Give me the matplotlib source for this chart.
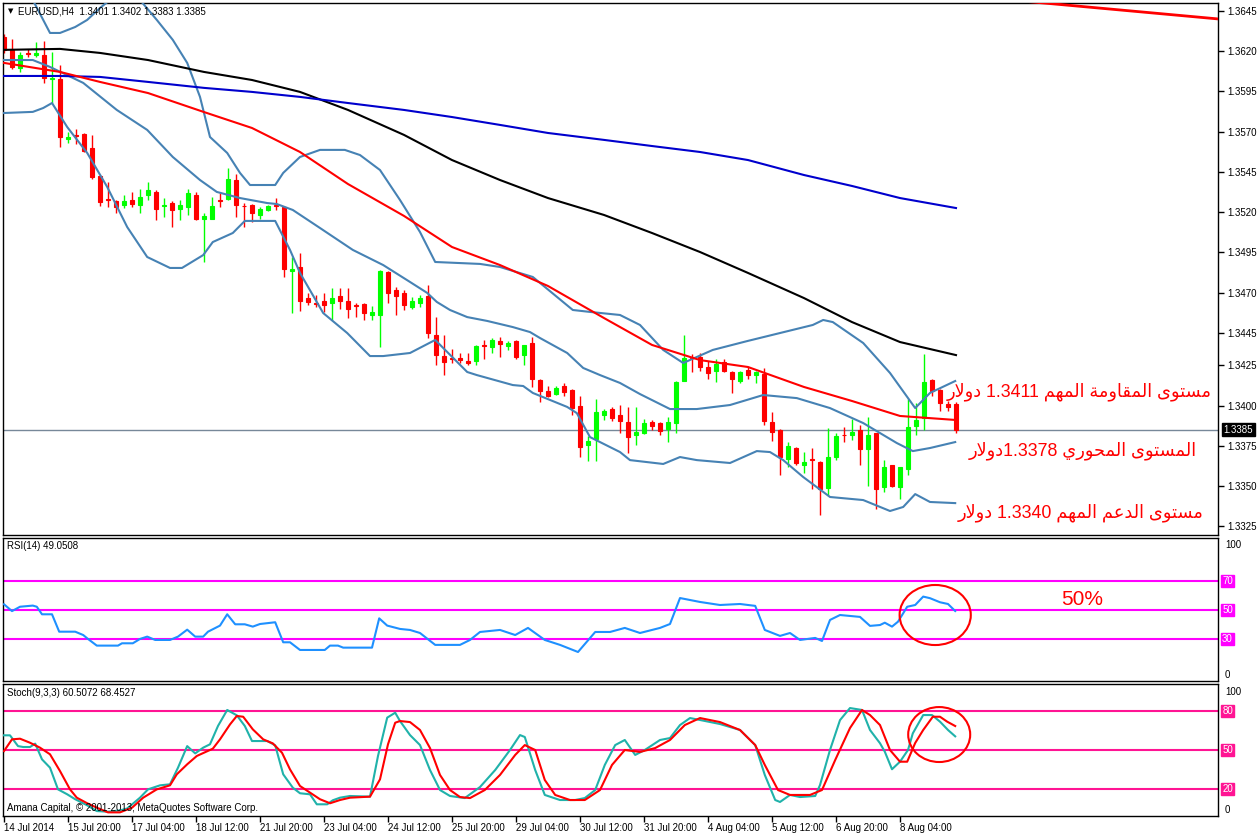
import re
import unicodedata
import matplotlib
matplotlib.use('Agg')
import matplotlib.pyplot as plt
from matplotlib.patches import Ellipse
import numpy as np

# ---------------- data ----------------
candle_open = [1.36290, 1.36208, 1.36096, 1.36189, 1.36176, 1.36176, 1.36029, 1.36027, 1.35655, 1.35680,
               1.35686, 1.35599, 1.35425, 1.35282, 1.35270, 1.35245, 1.35276, 1.35245, 1.35307, 1.35326,
               1.35239, 1.35257, 1.35220, 1.35233, 1.35307, 1.35158, 1.35158, 1.35276, 1.35282, 1.35400,
               1.35239, 1.35245, 1.35183, 1.35214, 1.35242, 1.35233, 1.34835, 1.34860, 1.34667, 1.34636,
               1.34651, 1.34635, 1.34680, 1.34651, 1.34621, 1.34630, 1.34564, 1.34564, 1.34829, 1.34717,
               1.34697, 1.34613, 1.34635, 1.34680, 1.34436, 1.34307, 1.34292, 1.34295, 1.34274, 1.34274,
               1.34376, 1.34365, 1.34399, 1.34369, 1.34399, 1.34315, 1.34386, 1.34158, 1.34088, 1.34071,
               1.34121, 1.34096, 1.33997, 1.33756, 1.33790, 1.33943, 1.33976, 1.33939, 1.33897, 1.33815,
               1.33827, 1.33897, 1.33889, 1.33856, 1.33889, 1.34154, 1.34301, 1.34299, 1.34241, 1.34216,
               1.34270, 1.34208, 1.34154, 1.34220, 1.34187, 1.34196, 1.33897, 1.33848, 1.33666, 1.33736,
               1.33632, 1.33665, 1.33649, 1.33488, 1.33682, 1.33817, 1.33815, 1.33848, 1.33732, 1.33827,
               1.33496, 1.33629, 1.33496, 1.33604, 1.33873, 1.33922, 1.34158, 1.34096, 1.34009, 1.34010]
candle_high = [1.36307, 1.36276, 1.36195, 1.36214, 1.36257, 1.36263, 1.36195, 1.36114, 1.35698, 1.35717,
               1.35692, 1.35680, 1.35431, 1.35388, 1.35276, 1.35307, 1.35326, 1.35344, 1.35388, 1.35338,
               1.35288, 1.35270, 1.35276, 1.35344, 1.35326, 1.35195, 1.35295, 1.35320, 1.35475, 1.35438,
               1.35257, 1.35251, 1.35233, 1.35245, 1.35288, 1.35239, 1.34922, 1.34947, 1.34699, 1.34686,
               1.34700, 1.34730, 1.34730, 1.34730, 1.34638, 1.34636, 1.34618, 1.34839, 1.34837, 1.34734,
               1.34717, 1.34672, 1.34684, 1.34750, 1.34548, 1.34436, 1.34353, 1.34324, 1.34324, 1.34374,
               1.34407, 1.34419, 1.34423, 1.34402, 1.34405, 1.34377, 1.34423, 1.34162, 1.34121, 1.34121,
               1.34141, 1.34100, 1.34059, 1.33810, 1.34038, 1.33980, 1.33989, 1.34001, 1.33992, 1.33992,
               1.33914, 1.33910, 1.33897, 1.33930, 1.34150, 1.34436, 1.34320, 1.34324, 1.34274, 1.34287,
               1.34287, 1.34212, 1.34212, 1.34241, 1.34212, 1.34233, 1.33960, 1.33852, 1.33773, 1.33740,
               1.33711, 1.33736, 1.33653, 1.33860, 1.33827, 1.33865, 1.33914, 1.33877, 1.33927, 1.33830,
               1.33662, 1.33632, 1.33620, 1.34042, 1.34017, 1.34320, 1.34166, 1.34100, 1.34030, 1.34020]
candle_low = [1.36189, 1.36090, 1.36071, 1.36164, 1.36164, 1.36003, 1.35878, 1.35605, 1.35630, 1.35624,
              1.35574, 1.35406, 1.35239, 1.35233, 1.35195, 1.35226, 1.35233, 1.35195, 1.35276, 1.35152,
              1.35170, 1.35108, 1.35152, 1.35183, 1.35152, 1.34891, 1.35158, 1.35233, 1.35276, 1.35170,
              1.35108, 1.35139, 1.35158, 1.35208, 1.35214, 1.34798, 1.34574, 1.34587, 1.34624, 1.34612,
              1.34581, 1.34531, 1.34601, 1.34543, 1.34551, 1.34531, 1.34531, 1.34365, 1.34635, 1.34564,
              1.34593, 1.34601, 1.34613, 1.34419, 1.34253, 1.34191, 1.34266, 1.34262, 1.34253, 1.34253,
              1.34291, 1.34324, 1.34303, 1.34345, 1.34291, 1.34253, 1.34117, 1.34022, 1.34051, 1.34067,
              1.34059, 1.33939, 1.33682, 1.33657, 1.33657, 1.33910, 1.33902, 1.33831, 1.33707, 1.33756,
              1.33820, 1.33848, 1.33815, 1.33773, 1.33831, 1.34150, 1.34208, 1.34216, 1.34166, 1.34146,
              1.34210, 1.34079, 1.34138, 1.34166, 1.34138, 1.33877, 1.33781, 1.33566, 1.33620, 1.33629,
              1.33583, 1.33479, 1.33318, 1.33446, 1.33662, 1.33773, 1.33786, 1.33632, 1.33500, 1.33355,
              1.33463, 1.33496, 1.33417, 1.33570, 1.33815, 1.33848, 1.34059, 1.33964, 1.33964, 1.33830]
candle_close = [1.36208, 1.36104, 1.36176, 1.36183, 1.36191, 1.36034, 1.36034, 1.35667, 1.35667, 1.35673,
                1.35580, 1.35419, 1.35264, 1.35276, 1.35233, 1.35270, 1.35251, 1.35295, 1.35338, 1.35220,
                1.35245, 1.35214, 1.35245, 1.35320, 1.35158, 1.35177, 1.35239, 1.35270, 1.35406, 1.35245,
                1.35236, 1.35195, 1.35220, 1.35239, 1.35239, 1.34848, 1.34848, 1.34649, 1.34643, 1.34633,
                1.34626, 1.34667, 1.34651, 1.34601, 1.34618, 1.34576, 1.34581, 1.34833, 1.34700, 1.34680,
                1.34626, 1.34647, 1.34667, 1.34448, 1.34315, 1.34270, 1.34289, 1.34282, 1.34262, 1.34369,
                1.34372, 1.34407, 1.34382, 1.34386, 1.34303, 1.34374, 1.34166, 1.34092, 1.34059, 1.34109,
                1.34084, 1.33984, 1.33744, 1.33778, 1.33960, 1.33964, 1.33922, 1.33905, 1.33806, 1.33835,
                1.33889, 1.33873, 1.33843, 1.33897, 1.34146, 1.34295, 1.34295, 1.34241, 1.34204, 1.34258,
                1.34216, 1.34166, 1.34208, 1.34191, 1.34208, 1.33905, 1.33835, 1.33678, 1.33748, 1.33641,
                1.33649, 1.33662, 1.33483, 1.33678, 1.33810, 1.33814, 1.33835, 1.33728, 1.33815, 1.33483,
                1.33620, 1.33500, 1.33620, 1.33865, 1.33910, 1.34146, 1.34088, 1.34014, 1.33992, 1.33850]

ma_bars = [0, 7, 12, 18, 25, 31, 37, 43, 50, 56, 62, 68, 75, 81, 87, 93, 100, 106, 112, 119]
ma_black = [1.36208, 1.36214, 1.36189, 1.36145, 1.36071, 1.36021, 1.35947, 1.35835, 1.35680, 1.35524,
            1.35400, 1.35288, 1.35183, 1.35071, 1.34953, 1.34823, 1.34667, 1.34518, 1.34394, 1.34313]
ma_blue = [1.36046, 1.36046, 1.36040, 1.36009, 1.35972, 1.35947, 1.35916, 1.35878, 1.35835, 1.35791,
           1.35742, 1.35692, 1.35649, 1.35611, 1.35574, 1.35524, 1.35431, 1.35363, 1.35288, 1.35226]
ma_red = [1.36127, 1.36071, 1.36009, 1.35940, 1.35822, 1.35723, 1.35574, 1.35375, 1.35177, 1.34984,
          1.34872, 1.34742, 1.34543, 1.34376, 1.34282, 1.34239, 1.34115, 1.34028, 1.33935, 1.33910]

bb_up_bars = [0, 2, 3.6, 4.9, 5.75, 7, 8.9, 10.4, 12, 13.25, 15, 17, 19.1, 21.1, 22.9, 24.5, 25.75, 27.9,
              29.5, 30.75, 33.9, 34.9, 37, 39.5, 42.6, 44.5, 47, 49.5, 52, 53.9, 59.5, 62, 66.1, 71.1,
              73.25, 77, 79.5, 82.4, 84.9, 88.6, 92.9, 97, 101.1, 102.4, 103.6, 107.4, 110.75, 113.9,
              115.75, 118.9]
bb_up = [1.36568, 1.36543, 1.36518, 1.36394, 1.36313, 1.36313, 1.36350, 1.36394, 1.36468, 1.36518,
         1.36568, 1.36518, 1.36394, 1.36270, 1.36127, 1.35916, 1.35667, 1.35568, 1.35444, 1.35369,
         1.35369, 1.35444, 1.35543, 1.35587, 1.35587, 1.35555, 1.35462, 1.35276, 1.35077, 1.34891,
         1.34879, 1.34860, 1.34798, 1.34593, 1.34581, 1.34562, 1.34500, 1.34345, 1.34264, 1.34345,
         1.34400, 1.34450, 1.34500, 1.34531, 1.34518, 1.34388, 1.34202, 1.33984, 1.34078, 1.34152]
bb_mid_bars = [0, 3.6, 5.75, 9.9, 14.1, 17.9, 21.1, 24.5, 26.6, 29.5, 32.9, 34.1, 36.1, 39.5, 43.6,
               47.4, 50.75, 52.9, 54.1, 55.75, 57.9, 60.4, 63.6, 65.75, 67, 70.4, 72.4, 74.5, 77, 79.5,
               83.25, 86.6, 90.75, 94.9, 99.1, 103.25, 107.4, 111.6, 113.6, 115.75, 118.9]
bb_mid = [1.36145, 1.36145, 1.36102, 1.36003, 1.35835, 1.35711, 1.35543, 1.35400, 1.35326, 1.35288,
          1.35257, 1.35251, 1.35214, 1.35102, 1.34966, 1.34872, 1.34767, 1.34699, 1.34643, 1.34593,
          1.34549, 1.34525, 1.34487, 1.34456, 1.34419, 1.34326, 1.34233, 1.34189, 1.34140, 1.34071,
          1.33978, 1.33978, 1.34003, 1.34065, 1.34046, 1.33984, 1.33891, 1.33767, 1.33717, 1.33736,
          1.33773]
bb_low_bars = [0, 3.6, 4.9, 6, 7.9, 10.4, 12.9, 15.4, 17.9, 20.75, 22.25, 24.9, 26.1, 28.6, 30.1, 33.9,
               35.75, 37, 39.9, 42.9, 45.75, 47.4, 50.75, 53.9, 57.9, 59.1, 63.6, 64.9, 66.1, 70.4, 71.6,
               73.25, 74.5, 77, 78.25, 82.4, 84.5, 86.6, 90.75, 94.1, 95.75, 97.4, 99.9, 103.25, 107.4,
               110.75, 112.4, 113.9, 115.75, 118.9]
bb_low = [1.35816, 1.35823, 1.35847, 1.35878, 1.35729, 1.35568, 1.35357, 1.35108, 1.34922, 1.34854,
          1.34854, 1.34934, 1.35015, 1.35071, 1.35146, 1.35146, 1.34966, 1.34823, 1.34574, 1.34450,
          1.34307, 1.34307, 1.34326, 1.34407, 1.34208, 1.34189, 1.34127, 1.34121, 1.34078, 1.33991,
          1.33953, 1.33804, 1.33773, 1.33711, 1.33661, 1.33637, 1.33680, 1.33661, 1.33643, 1.33717,
          1.33711, 1.33661, 1.33556, 1.33432, 1.33413, 1.33345, 1.33370, 1.33450, 1.33401, 1.33394]

trend_bars = [128, 152]
trend_vals = [1.36508, 1.36399]
last_price = 1.3385

rsi_bars = [0, 1, 2, 3.6, 4.1, 4.75, 6, 6.9, 8.9, 9.9, 10.5, 11.6, 14.25, 14.75, 16.1, 17, 17.9, 18.9,
            20.75, 21.75, 22.9, 23.9, 24.9, 25.5, 27, 27.9, 28.9, 30.1, 31.1, 32, 33.9, 34.9, 35.75, 37,
            40.1, 40.75, 41.75, 42.4, 46, 46.9, 47.9, 49.5, 50.75, 52, 53.9, 57, 58.25, 59.5, 62, 63.9,
            65.5, 67.6, 69.5, 71.75, 73.9, 75.75, 77.6, 79.5, 82, 83.25, 84.5, 87, 89.5, 92, 93.9, 95.1,
            97, 98.25, 99.5, 101.4, 102.25, 103.25, 104.5, 107, 108.25, 109.5, 110.1, 111, 111.75, 112.9,
            113.9, 114.9, 115.75, 117, 118, 118.9]
rsi_vals = [53.7, 49, 52, 52.8, 52, 46.8, 46.8, 34.8, 34.8, 32.5, 29.8, 25.2, 25.2, 26.8, 26.8, 29.8,
            31.4, 29.1, 29.1, 31.4, 36.2, 31.4, 31.4, 34.8, 39, 46.8, 39.9, 39.9, 38.3, 40.1, 41.3, 27.5,
            27.5, 22.2, 22.2, 25.2, 25.2, 23.8, 23.8, 44, 39, 36.7, 36, 33.9, 25.7, 25.7, 29.1, 34.6, 36,
            32.5, 37.4, 29.1, 25.7, 20.8, 34.6, 34.6, 37.4, 33.9, 37.4, 40.1, 58, 55.3, 53.2, 53.9, 52.6,
            36, 31.9, 33.9, 29.1, 30.5, 28.4, 42.9, 46.3, 45, 38.8, 39.4, 41, 38.3, 41.7, 52, 53.2, 59,
            57.9, 55.1, 53.9, 49.05]

stoch_k_bars = [0, 0.75, 1.75, 2.4, 3.25, 3.9, 4.75, 5.75, 6.75, 7.9, 8.9, 10.4, 11.6, 13, 14.5, 15.4,
                17, 18, 19.5, 20.75, 21.75, 22.9, 23.9, 24.9, 25.75, 26.75, 27.9, 29.1, 30.1, 31, 32.9,
                33.9, 34.9, 36.1, 37, 38.25, 39.1, 40.4, 41.1, 42, 43.25, 45.75, 46.75, 47.9, 48.9, 49.5,
                50.75, 52, 53.25, 54.5, 55.75, 57.6, 59.5, 61.4, 63.25, 64.5, 65.1, 66.4, 67.6, 69.5,
                71.4, 72.6, 73.9, 75.1, 76.4, 77.6, 78.9, 80.1, 82, 83.25, 84.5, 85.75, 87, 89.5, 92,
                93.9, 95.1, 96.4, 97, 98.25, 99.5, 101.4, 102, 103.25, 104.5, 105.75, 107.25, 108.25,
                109.5, 110.1, 111, 112, 113, 113.6, 114.9, 116, 117, 118, 118.9]
stoch_k = [61.3, 61.3, 53, 52.3, 52.3, 54.9, 42.8, 36.4, 19.7, 15.9, 12.1, 7.4, 3, 2.5, 3.5, 5, 13.3,
           19.7, 22.8, 23.6, 36.4, 53, 47.4, 51.8, 54.4, 68.5, 80.8, 76.7, 68.5, 56.9, 56.9, 53.6, 31.3,
           21, 16.7, 15.9, 8.2, 8.2, 11.3, 13.3, 14.6, 14.1, 45.4, 74.9, 78.7, 72.3, 61.5, 53.8, 34.6,
           19.2, 14.6, 13, 21.5, 34.6, 50, 61.5, 60, 34.6, 15.4, 11.5, 11.5, 13, 19.2, 38.5, 53.8, 57.7,
           46.2, 50, 57.7, 59.2, 69.2, 74.6, 73.1, 70, 65.4, 53.8, 30.8, 11.5, 10, 15.4, 13.8, 14.6, 23,
           50, 73, 82.3, 80.8, 65.4, 55.2, 48.7, 35.2, 41, 50, 62.8, 76.9, 76.9, 71.8, 65.4, 60.51]
stoch_d_bars = [0, 1, 2, 3.25, 4.5, 5.75, 7, 8.25, 9.1, 10.4, 11.6, 13, 14.5, 16, 17.4, 19.1, 20.75,
                21.6, 22.9, 24.1, 26.1, 27, 28.25, 29.1, 29.9, 31.1, 32.4, 33.6, 34.75, 35.75, 37, 38.25,
                39.5, 40.75, 42, 43.25, 45.75, 47, 48, 48.9, 49.5, 50.75, 52, 53.25, 54.5, 55.75, 57,
                58.25, 60.1, 62, 63.9, 65.1, 66.4, 67.6, 68.9, 70.75, 72.6, 74.5, 76, 77.6, 79.5, 81.4,
                83.25, 85.1, 87, 89.5, 92, 93.9, 95.1, 96.75, 98.25, 100.75, 102.25, 103.9, 105.75,
                107.25, 108.25, 109.5, 110.75, 112, 112.9, 113.9, 114.9, 116.1, 117, 117.9, 118.9]
stoch_d = [49.2, 58.2, 58.7, 55.6, 51.8, 46.7, 33.8, 19.7, 13.3, 9, 5.6, 2, 2, 5.6, 13.3, 19.7, 22.8,
           31.3, 39, 45.4, 51, 58.2, 69.7, 76.2, 75.6, 65.9, 58.2, 55.1, 47.9, 35.1, 22.3, 17.2, 12.1, 9,
           11.5, 13.3, 14.1, 27.4, 54.4, 71, 72.3, 71.5, 65.4, 51.5, 30.8, 19.2, 13.8, 13, 19.2, 30.8,
           46.2, 53.8, 50, 26.9, 15.4, 11.5, 11.5, 19.2, 38.5, 50, 48.5, 51.5, 57.7, 69.2, 74.6, 71.5,
           65.4, 53.8, 38.5, 19.2, 15.4, 15.4, 19.2, 42.3, 66.9, 80.8, 76.9, 69.2, 50, 41, 41, 55.4, 65.4,
           75.6, 75.6, 71.8, 68.45]

price_ticks = [1.3645, 1.3620, 1.3595, 1.3570, 1.3545, 1.3520, 1.3495, 1.3470, 1.3445, 1.3425,
               1.3400, 1.3375, 1.3350, 1.3325]
time_ticks = [0, 8, 16, 24, 32, 40, 48, 56, 64, 72, 80, 88, 96, 104, 112]
time_labels = ['14 Jul 2014', '15 Jul 20:00', '17 Jul 04:00', '18 Jul 12:00', '21 Jul 20:00',
               '23 Jul 04:00', '24 Jul 12:00', '25 Jul 20:00', '29 Jul 04:00', '30 Jul 12:00',
               '31 Jul 20:00', '4 Aug 04:00', '5 Aug 12:00', '6 Aug 20:00', '8 Aug 04:00']
rsi_levels = [70, 50, 30]
stoch_levels = [80, 50, 20]

note_resist = 'مستوى المقاومة المهم 1.3411 دولار'
note_pivot = 'المستوى المحوري 1.3378دولار'
note_support = 'مستوى الدعم المهم 1.3340 دولار'


# ---------------- arabic helpers (matplotlib has no shaping / bidi) ----------------
RIGHT_JOIN = set('اأإآدذرزوؤة')


def is_arabic(ch):
    return '\u0621' <= ch <= '\u064A'


def joins_next(ch):
    return is_arabic(ch) and ch not in RIGHT_JOIN


def shape(text):
    out = []
    i = 0
    while i < len(text):
        ch = text[i]
        if not is_arabic(ch):
            out.append(ch)
            i += 1
            continue
        prev_conn = i > 0 and joins_next(text[i - 1])
        if ch == 'ل' and i + 1 < len(text) and text[i + 1] == 'ا':
            form = 'FINAL' if prev_conn else 'ISOLATED'
            out.append(unicodedata.lookup('ARABIC LIGATURE LAM WITH ALEF ' + form + ' FORM'))
            i += 2
            continue
        next_conn = joins_next(ch) and i + 1 < len(text) and is_arabic(text[i + 1])
        if prev_conn and next_conn:
            form = 'MEDIAL'
        elif prev_conn:
            form = 'FINAL'
        elif next_conn:
            form = 'INITIAL'
        else:
            form = 'ISOLATED'
        try:
            out.append(unicodedata.lookup(unicodedata.name(ch) + ' ' + form + ' FORM'))
        except KeyError:
            out.append(ch)
        i += 1
    return ''.join(out)


def visual(text):
    runs = re.findall(r'[0-9.]+|[^0-9.]+', shape(text))
    return ''.join(r if r[0].isdigit() else r[::-1] for r in reversed(runs))


# ---------------- figure ----------------
W, H = 1258, 835
plt.rcParams['font.family'] = ['Liberation Sans', 'DejaVu Sans']
fig = plt.figure(figsize=(W / 100, H / 100), dpi=100)
fig.patch.set_facecolor('white')

left, width = 3 / W, 1215 / W
ax = fig.add_axes([left, 1 - 535 / H, width, 532 / H])
ax_rsi = fig.add_axes([left, 1 - 681 / H, width, 143 / H])
ax_st = fig.add_axes([left, 1 - 816 / H, width, 132 / H])

for a in (ax, ax_rsi, ax_st):
    a.set_xlim(-0.125, 151.75)
    for s in a.spines.values():
        s.set_color('black')
        s.set_linewidth(1)
    a.tick_params(axis='x', bottom=False, labelbottom=False)

SMALL = 7

# main panel
o = np.array(candle_open)
h = np.array(candle_high)
l = np.array(candle_low)
c = np.array(candle_close)
idx = np.arange(len(o))
cols = np.where(c >= o, '#00FF00', '#FF0000')
ax.vlines(idx, l, h, colors=cols, lw=1, zorder=2)
ax.bar(idx, c - o, bottom=o, width=0.62, color=cols, edgecolor=cols, linewidth=0.8, zorder=2)

bb_col = '#4682B4'
ax.plot(bb_up_bars, bb_up, color=bb_col, lw=1.5, zorder=3)
ax.plot(bb_mid_bars, bb_mid, color=bb_col, lw=1.5, zorder=3)
ax.plot(bb_low_bars, bb_low, color=bb_col, lw=1.5, zorder=3)
ax.plot(ma_bars, ma_black, color='black', lw=1.5, zorder=3)
ax.plot(ma_bars, ma_blue, color='#0000CD', lw=1.5, zorder=3)
ax.plot(ma_bars, ma_red, color='#FF0000', lw=1.5, zorder=3)
ax.plot(trend_bars, trend_vals, color='#FF0000', lw=2, zorder=3)
ax.axhline(last_price, color='#778899', lw=1, zorder=1)

ax.set_ylim(1.33196, 1.36499)
ax.yaxis.tick_right()
ax.set_yticks(price_ticks)
ax.set_yticklabels([f'{t:.4f}' for t in price_ticks])
ax.tick_params(axis='y', direction='out', length=4, width=1, pad=3, labelsize=SMALL, colors='black')
ax.annotate(f'{last_price:.4f}', xy=(1, last_price), xycoords=('axes fraction', 'data'),
            xytext=(4, 0), textcoords='offset points', va='center', ha='left', fontsize=SMALL,
            color='white', bbox=dict(boxstyle='square,pad=0.15', fc='black', ec='black'),
            annotation_clip=False, zorder=5)

ar_font = ['Liberation Sans', 'DejaVu Sans']
ax.text(151.0, 1.34055, visual(note_resist), ha='right', va='baseline', fontsize=12.8,
        color='#FF0000', family=ar_font)
ax.text(149.1, 1.33692, visual(note_pivot), ha='right', va='baseline', fontsize=12.8,
        color='#FF0000', family=ar_font)
ax.text(150.0, 1.33308, visual(note_support), ha='right', va='baseline', fontsize=12.8,
        color='#FF0000', family=ar_font)

fig.text(7.5 / W, 1 - 11 / H, '\u25BC', fontsize=5, va='center', ha='left', family='DejaVu Sans')
fig.text(18 / W, 1 - 11 / H, 'EURUSD,H4  1.3401 1.3402 1.3383 1.3385', fontsize=SMALL,
         va='center', ha='left')

# RSI panel
ax_rsi.set_ylim(0.8, 99.4)
ax_rsi.set_yticks([])
for lv in rsi_levels:
    ax_rsi.axhline(lv, color='#FF00FF', lw=1.5, zorder=1)
    ax_rsi.annotate(str(lv), xy=(1, lv), xycoords=('axes fraction', 'data'), xytext=(3, 0),
                    textcoords='offset points', va='center', ha='left', fontsize=SMALL,
                    color='white', bbox=dict(boxstyle='square,pad=0.1', fc='#FF00FF', ec='#FF00FF'),
                    annotation_clip=False)
ax_rsi.plot(rsi_bars, rsi_vals, color='#1E90FF', lw=1.5, zorder=3)
ax_rsi.add_patch(Ellipse((116.4, 46.3), 8.9, 41.4, fill=False, ec='#FF0000', lw=1.5,
                         clip_on=False, zorder=4))
ax_rsi.text(132.2, 53.2, '50%', fontsize=15, color='#FF0000', va='baseline', ha='left')
fig.text(7 / W, 1 - 546 / H, 'RSI(14) 49.0508', fontsize=SMALL, va='center', ha='left')
fig.text(1225 / W, 1 - 545 / H, '100', fontsize=SMALL, va='center', ha='left')
fig.text(1225 / W, 1 - 675 / H, '0', fontsize=SMALL, va='center', ha='left')

# Stochastic panel
ax_st.set_ylim(-0.8, 100.8)
ax_st.set_yticks([])
for lv in stoch_levels:
    ax_st.axhline(lv, color='#FF1493', lw=1.5, zorder=1)
    ax_st.annotate(str(lv), xy=(1, lv), xycoords=('axes fraction', 'data'), xytext=(3, 0),
                   textcoords='offset points', va='center', ha='left', fontsize=SMALL,
                   color='white', bbox=dict(boxstyle='square,pad=0.1', fc='#FF1493', ec='#FF1493'),
                   annotation_clip=False)
ax_st.plot(stoch_k_bars, stoch_k, color='#20B2AA', lw=1.5, zorder=3)
ax_st.plot(stoch_d_bars, stoch_d, color='#FF0000', lw=1.5, zorder=3)
ax_st.add_patch(Ellipse((116.9, 61.9), 7.75, 42.3, fill=False, ec='#FF0000', lw=1.5,
                        clip_on=False, zorder=4))
fig.text(7 / W, 1 - 693 / H, 'Stoch(9,3,3) 60.5072 68.4527', fontsize=SMALL, va='center', ha='left')
fig.text(7 / W, 1 - 808 / H, 'Amana Capital, \u00A9 2001-2013, MetaQuotes Software Corp.',
         fontsize=SMALL, va='center', ha='left')
fig.text(1225 / W, 1 - 692 / H, '100', fontsize=SMALL, va='center', ha='left')
fig.text(1225 / W, 1 - 810 / H, '0', fontsize=SMALL, va='center', ha='left')

ax_st.set_xticks(time_ticks)
ax_st.set_xticklabels(time_labels, ha='left')
ax_st.tick_params(axis='x', bottom=True, labelbottom=True, direction='out', length=4, width=1,
                  pad=1, labelsize=SMALL)

fig.savefig('out.png', dpi=100)
